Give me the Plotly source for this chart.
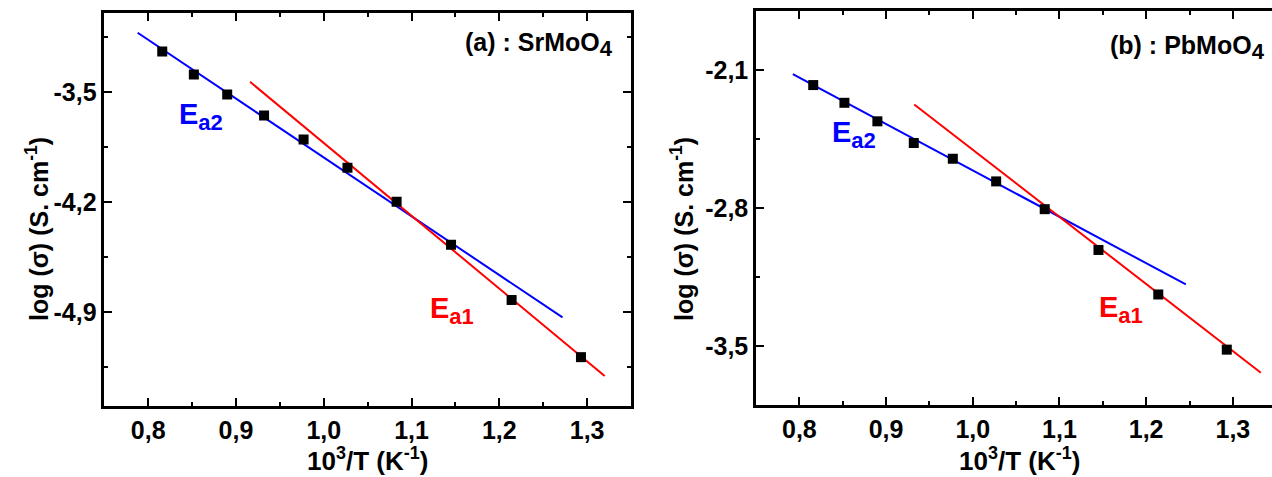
import plotly.graph_objects as go

W, H = 1272, 477

# ---- data ----
inv_T = [0.816, 0.852, 0.890, 0.932, 0.977, 1.027, 1.083, 1.145, 1.214, 1.293]
log_sigma_sr = [-3.243, -3.390, -3.517, -3.651, -3.804, -3.983, -4.200, -4.474, -4.825, -5.189]
log_sigma_pb = [-2.176, -2.266, -2.360, -2.470, -2.550, -2.665, -2.806, -3.013, -3.239, -3.519]

# fit lines (end points)
sr_ea2_x = [0.788, 1.272]
sr_ea2_y = [-3.124, -4.936]
sr_ea1_x = [0.916, 1.320]
sr_ea1_y = [-3.436, -5.309]
pb_ea2_x = [0.7925, 1.2458]
pb_ea2_y = [-2.120, -3.188]
pb_ea1_x = [0.9325, 1.3323]
pb_ea1_y = [-2.275, -3.636]

x_ticks = [0.8, 0.9, 1.0, 1.1, 1.2, 1.3]
x_tick_text = ["0,8", "0,9", "1,0", "1,1", "1,2", "1,3"]
x_minor = [0.75, 0.85, 0.95, 1.05, 1.15, 1.25, 1.35]
y_ticks_sr = [-3.5, -4.2, -4.9]
y_tick_text_sr = ["-3,5", "-4,2", "-4,9"]
y_minor_sr = [-3.15, -3.85, -4.55, -5.25]
y_ticks_pb = [-2.1, -2.8, -3.5]
y_tick_text_pb = ["-2,1", "-2,8", "-3,5"]
y_minor_pb = [-2.45, -3.15]

FONT = "Liberation Sans, Arial, sans-serif"
BLUE = "#0000ff"
RED = "#ff0000"

fig = go.Figure()

def add_panel(xa, ya, y, l2x, l2y, l1x, l1y):
    fig.add_trace(go.Scatter(x=l2x, y=l2y, mode="lines", line=dict(color=BLUE, width=2),
                             xaxis=xa, yaxis=ya, showlegend=False, hoverinfo="skip"))
    fig.add_trace(go.Scatter(x=l1x, y=l1y, mode="lines", line=dict(color=RED, width=2),
                             xaxis=xa, yaxis=ya, showlegend=False, hoverinfo="skip"))
    fig.add_trace(go.Scatter(x=inv_T, y=y, mode="markers",
                             marker=dict(symbol="square", size=10, color="black"),
                             xaxis=xa, yaxis=ya, showlegend=False))

add_panel("x", "y", log_sigma_sr, sr_ea2_x, sr_ea2_y, sr_ea1_x, sr_ea1_y)
add_panel("x2", "y2", log_sigma_pb, pb_ea2_x, pb_ea2_y, pb_ea1_x, pb_ea1_y)

tickfont = dict(family=FONT, size=25, color="black", weight="bold")

def xaxis(domain, rng, anchor):
    return dict(domain=domain, range=rng, anchor=anchor, showgrid=False, zeroline=False,
                showline=True, linecolor="black", linewidth=2.5, mirror="allticks",
                ticks="inside", ticklen=8, tickwidth=2, tickcolor="black",
                tickmode="array", tickvals=x_ticks, ticktext=x_tick_text,
                tickfont=tickfont,
                minor=dict(tickmode="array", tickvals=x_minor, ticks="inside",
                           ticklen=4, tickwidth=2, tickcolor="black"))

def yaxis(domain, rng, anchor, tv, tt, mv, mirror):
    return dict(domain=domain, range=rng, anchor=anchor, showgrid=False, zeroline=False,
                showline=True, linecolor="black", linewidth=2.5, mirror=mirror,
                ticks="inside", ticklen=8, tickwidth=2, tickcolor="black",
                tickmode="array", tickvals=tv, ticktext=tt, tickfont=tickfont,
                minor=dict(tickmode="array", tickvals=mv, ticks="inside",
                           ticklen=4, tickwidth=2, tickcolor="black"))

fig.update_layout(
    width=W, height=H,
    margin=dict(l=0, r=0, t=0, b=0),
    paper_bgcolor="white", plot_bgcolor="white",
    xaxis=xaxis([104.3 / W, 631 / W], [0.75, 1.35], "y"),
    yaxis=yaxis([1 - 406 / H, 1 - 13.3 / H], [-5.5, -3.0], "x",
                y_ticks_sr, y_tick_text_sr, y_minor_sr, "allticks"),
    xaxis2=xaxis([756 / W, 1.0], [0.75, 0.75 + 516 / 867], "y2"),
    yaxis2=yaxis([1 - 405 / H, 1 - 11 / H], [-3.8, -1.8], "x2",
                 y_ticks_pb, y_tick_text_pb, y_minor_pb, False),
)

def ann(px, py, text, size, color="black", angle=0):
    fig.add_annotation(x=px / W, y=1 - py / H, xref="paper", yref="paper",
                       text=text, showarrow=False, textangle=angle,
                       xanchor="center", yanchor="middle", borderpad=0,
                       font=dict(family=FONT, size=size, color=color, weight="bold"))

SUB_BIG = '<sub><span style="font-size:22px">%s</span></sub>'
SUP_BIG = '<sup><span style="font-size:18px">%s</span></sup>'

ann(539, 45, "(a) : SrMoO" + SUB_BIG % "4", 25)
ann(1187, 47, "(b) : PbMoO" + SUB_BIG % "4", 25)
ann(201, 116, "E" + SUB_BIG % "a2", 29, BLUE)
ann(452, 310, "E" + SUB_BIG % "a1", 29, RED)
ann(854, 135, "E" + SUB_BIG % "a2", 29, BLUE)
ann(1121, 309, "E" + SUB_BIG % "a1", 29, RED)
ann(37, 229, "log (σ) (S. cm<sup>-1</sup>)", 25, angle=-90)
ann(682, 229, "log (σ) (S. cm<sup>-1</sup>)", 25, angle=-90)
ann(367, 459, "10" + SUP_BIG % "3" + "/T (K" + SUP_BIG % "-1" + ")", 26)
ann(1019, 459, "10" + SUP_BIG % "3" + "/T (K" + SUP_BIG % "-1" + ")", 26)

fig.write_html("out.html", config={"displayModeBar": False},
               post_script="document.body.style.margin='0px';document.body.style.overflow='hidden';")
